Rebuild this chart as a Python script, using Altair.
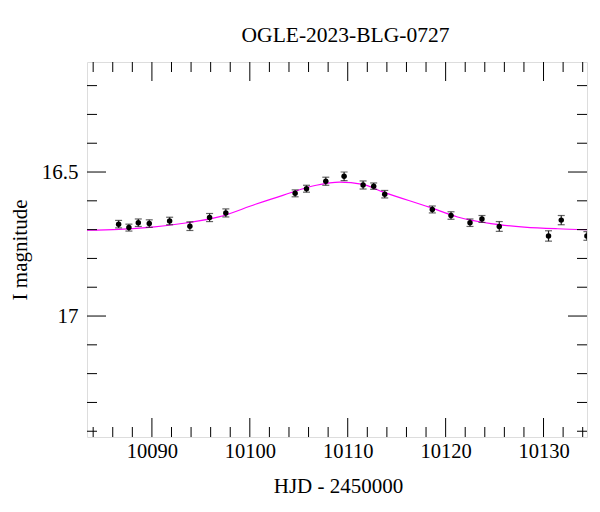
import altair as alt
import pandas as pd

# ---- data ----
hjd = [10086.60, 10087.65, 10088.61, 10089.73, 10091.81, 10093.88, 10095.89,
       10097.55, 10104.63, 10105.79, 10107.76, 10109.63, 10111.57, 10112.65,
       10113.78, 10118.64, 10120.55, 10122.49, 10123.71, 10125.48, 10130.51,
       10131.81, 10134.43]
mag = [16.681, 16.693, 16.676, 16.679, 16.670, 16.688, 16.658,
       16.642, 16.574, 16.558, 16.532, 16.515, 16.545, 16.549,
       16.577, 16.630, 16.651, 16.676, 16.663, 16.689, 16.722,
       16.667, 16.722]
err = [0.013, 0.012, 0.013, 0.013, 0.013, 0.015, 0.014,
       0.014, 0.012, 0.012, 0.014, 0.015, 0.014, 0.011,
       0.013, 0.012, 0.013, 0.013, 0.012, 0.017, 0.018,
       0.016, 0.015]

model_hjd = [10083.37, 10086.63, 10090.04, 10093.44, 10096.84, 10100.58,
             10103.37, 10106.78, 10109.15, 10111.53, 10113.57, 10118.34,
             10121.22, 10124.63, 10128.03, 10131.43, 10134.44]
model_mag = [16.702, 16.699, 16.691, 16.677, 16.656, 16.612,
             16.581, 16.546, 16.535, 16.543, 16.569, 16.622,
             16.656, 16.679, 16.691, 16.697, 16.700]

x_major = [10090, 10100, 10110, 10120, 10130]
x_minor = [10084, 10086, 10088, 10092, 10094, 10096, 10098, 10102, 10104,
           10106, 10108, 10112, 10114, 10116, 10118, 10122, 10124, 10126,
           10128, 10132, 10134]
y_major = [16.5, 17.0]
y_minor = [16.2, 16.3, 16.4, 16.6, 16.7, 16.8, 16.9, 17.1, 17.2, 17.3, 17.4]

title_text = "OGLE-2023-BLG-0727"
x_title = "HJD - 2450000"
y_title = "I magnitude"

# ---- chart ----
W, H = 500, 375
FONT = "Liberation Serif"
xs = alt.Scale(domain=[10083.37, 10134.44], nice=False, zero=False)
ys = alt.Scale(domain=[16.118, 17.420], nice=False, zero=False, reverse=True)

x_axis = alt.Axis(values=x_major, format="d", title=x_title, grid=False,
                  domain=False, tickSize=0, tickOpacity=0, labelPadding=20,
                  labelBaseline="alphabetic", labelFontSize=20.5,
                  labelColor="black", titleFontSize=21, titleFontWeight="normal",
                  titleColor="black", titleX=251, titleY=55.5,
                  titleBaseline="alphabetic", titleAlign="center",
                  labelFont=FONT, titleFont=FONT)
y_axis = alt.Axis(values=y_major, format="~g", title=y_title, grid=False,
                  domain=False, tickSize=0, tickOpacity=0, labelPadding=9,
                  labelFontSize=21, labelColor="black", labelBaseline="middle",
                  titleFontSize=21, titleFontWeight="normal", titleColor="black",
                  titleAngle=270, titleX=-67, titleY=187.5,
                  titleBaseline="middle", titleAlign="center",
                  labelFont=FONT, titleFont=FONT)

pts = pd.DataFrame({"hjd": hjd, "mag": mag, "err": err})
pts["lo"] = pts["mag"] - pts["err"]
pts["hi"] = pts["mag"] + pts["err"]
model = pd.DataFrame({"hjd": model_hjd, "mag": model_mag})

X = lambda f: alt.X(f, scale=xs, axis=x_axis)
Y = lambda f: alt.Y(f, scale=ys, axis=y_axis)

curve = alt.Chart(model).mark_line(color="#ff00ff", strokeWidth=1.2, clip=True,
                                   interpolate="monotone").encode(
    x=X("hjd:Q"), y=Y("mag:Q"))

bars = alt.Chart(pts).mark_rule(color="#222222", strokeWidth=1.2, clip=True).encode(
    x=X("hjd:Q"), y=Y("lo:Q"), y2="hi:Q")
cap_lo = alt.Chart(pts).mark_tick(color="#222222", thickness=1.2, size=7,
                                  orient="horizontal", clip=True).encode(
    x=X("hjd:Q"), y=Y("lo:Q"))
cap_hi = alt.Chart(pts).mark_tick(color="#222222", thickness=1.2, size=7,
                                  orient="horizontal", clip=True).encode(
    x=X("hjd:Q"), y=Y("hi:Q"))
dots = alt.Chart(pts).mark_circle(color="black", size=30, opacity=1, clip=True).encode(
    x=X("hjd:Q"), y=Y("mag:Q"))


def xticks(vals, length):
    df = pd.DataFrame({"v": vals})
    bottom = alt.Chart(df).mark_rule(color="black", strokeWidth=1).encode(
        x=X("v:Q"), y=alt.value(H), y2=alt.value(H - length))
    top = alt.Chart(df).mark_rule(color="black", strokeWidth=1).encode(
        x=X("v:Q"), y=alt.value(0), y2=alt.value(length))
    return [bottom, top]


def yticks(vals, length):
    df = pd.DataFrame({"v": vals})
    left = alt.Chart(df).mark_rule(color="black", strokeWidth=1).encode(
        y=Y("v:Q"), x=alt.value(0), x2=alt.value(length))
    right = alt.Chart(df).mark_rule(color="black", strokeWidth=1).encode(
        y=Y("v:Q"), x=alt.value(W), x2=alt.value(W - length))
    return [left, right]


tick_layers = (xticks(x_major, 19) + xticks(x_minor, 10)
               + yticks(y_major, 19) + yticks(y_minor, 10))

chart = alt.layer(curve, bars, cap_lo, cap_hi, dots, *tick_layers).properties(
    width=W, height=H,
    title=alt.TitleParams(title_text, font=FONT, fontSize=21.5,
                          fontWeight="normal", color="black", anchor="middle",
                          frame="group", dx=8.5, dy=2, offset=0,
                          baseline="alphabetic"),
    autosize=alt.AutoSizeParams(type="none"),
    padding={"left": 79, "top": 54, "right": 5, "bottom": 66},
).configure_view(stroke="black", strokeWidth=1.2).configure(font=FONT)

chart.save("out.html", embed_options={"renderer": "svg", "actions": False})
